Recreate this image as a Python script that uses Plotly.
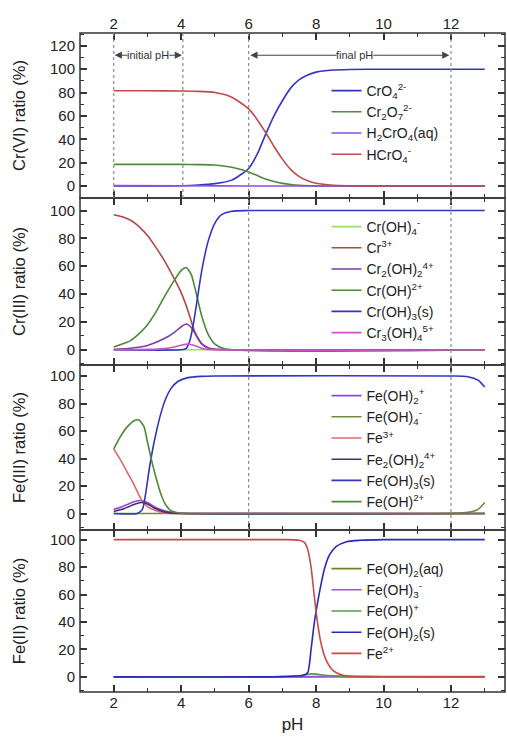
import plotly.graph_objects as go
from plotly.subplots import make_subplots

# ---------------- data ----------------
# Panel 1: Cr(VI)
pH_CrO4 = [2, 3, 4, 4.5, 5, 5.5, 6, 6.25, 6.5, 6.75, 7, 7.25, 7.5, 7.75, 8, 8.5, 9, 10, 11, 12, 13]
CrO4 = [0, 0, 0.2, 0.8, 2, 5, 15, 27, 44, 60, 73, 84, 91, 95, 97.5, 99.3, 99.8, 100, 100, 100, 100]
pH_HCrO4 = [2, 3, 4, 4.5, 5, 5.5, 6, 6.25, 6.5, 6.75, 7, 7.25, 7.5, 7.75, 8, 8.5, 9, 10, 13]
HCrO4 = [81.5, 81.5, 81.3, 81, 80, 76, 66, 57, 46, 34, 23, 14, 8, 4.5, 2.3, 0.6, 0.2, 0, 0]
pH_Cr2O7 = [2, 3, 4, 4.5, 5, 5.5, 6, 6.25, 6.5, 6.75, 7, 7.25, 7.5, 8, 8.5, 13]
Cr2O7 = [18.5, 18.5, 18.5, 18.3, 18, 16, 12, 9, 6, 3.8, 2.2, 1.2, 0.6, 0.1, 0, 0]
pH_H2CrO4 = [2, 4, 6, 13]
H2CrO4 = [0.3, 0.2, 0, 0]

# Panel 2: Cr(III)
pH_CrOH4 = [2, 13]
CrOH4 = [0, 0]
pH_Cr3 = [2, 2.25, 2.5, 2.75, 3, 3.25, 3.5, 3.75, 4, 4.2, 4.4, 4.6, 4.8, 5, 5.5, 13]
Cr3 = [97, 95.5, 93, 88.5, 82, 73.5, 64, 53, 41, 28, 13, 4.5, 1.2, 0.3, 0, 0]
pH_Cr2OH2 = [2, 2.5, 3, 3.5, 3.8, 4.0, 4.15, 4.3, 4.45, 4.6, 4.8, 5.0, 13]
Cr2OH2 = [0.2, 1, 3, 8, 12.5, 16.5, 18.5, 16, 10, 4.5, 1.3, 0.3, 0]
pH_CrOH = [2, 2.5, 2.75, 3, 3.25, 3.5, 3.8, 4.0, 4.15, 4.3, 4.45, 4.6, 4.8, 5.0, 5.3, 13]
CrOH = [2, 6.5, 11.5, 18, 27, 38, 50, 57, 59, 54, 40, 25, 11, 4, 0.5, 0]
pH_CrOH3s = [2, 4, 4.15, 4.25, 4.35, 4.45, 4.55, 4.65, 4.8, 5.0, 5.2, 5.5, 6, 13]
CrOH3s = [0, 0, 1, 6, 17, 32, 48, 62, 78, 91, 97, 99.5, 100, 100]
pH_Cr3OH4 = [2, 3, 3.5, 3.8, 4.0, 4.2, 4.4, 4.6, 4.8, 13]
Cr3OH4 = [0, 0.2, 0.8, 2, 3.2, 4, 3, 1, 0.2, 0]

# Panel 3: Fe(III)
pH_FeOH2p = [2, 2.3, 2.6, 2.8, 3.0, 3.2, 3.5, 3.8, 4.2, 13]
FeOH2p = [3, 5.5, 8.5, 9.5, 8, 5, 2, 0.6, 0.1, 0]
pH_FeOH4 = [2, 11.5, 12, 12.5, 12.8, 13]
FeOH4 = [0, 0, 0.1, 0.8, 3, 8]
pH_Fe3 = [2, 2.2, 2.4, 2.6, 2.8, 3.0, 3.2, 3.4, 3.6, 4.0, 13]
Fe3 = [47, 39, 30, 21, 11, 5, 2.5, 1, 0.3, 0, 0]
pH_Fe2OH2 = [2, 2.3, 2.6, 2.8, 3.0, 3.2, 3.5, 3.8, 13]
Fe2OH2 = [1.5, 3.5, 6.5, 8, 7, 4, 1.2, 0.2, 0]
pH_FeOH3s = [2, 2.7, 2.85, 2.95, 3.05, 3.15, 3.25, 3.4, 3.55, 3.7, 3.9, 4.2, 4.6, 5, 12, 12.5, 12.8, 13]
FeOH3s = [0, 0, 3, 15, 32, 46, 58, 73, 84, 91, 96, 98.8, 99.7, 100, 100, 99.5, 97, 92]
pH_FeOH2pp = [2, 2.2, 2.4, 2.6, 2.75, 2.9, 3.0, 3.1, 3.2, 3.3, 3.4, 3.55, 3.7, 3.9, 4.2, 13]
FeOH2pp = [47, 56, 63, 67.5, 68, 63, 52, 41, 31, 22, 14, 6, 2, 0.5, 0, 0]

# Panel 4: Fe(II)
pH_FeOH2aq = [2, 7.5, 8.0, 8.5, 9, 10, 13]
FeOH2aq = [0, 0, 0.3, 0.6, 0.5, 0.3, 0.3]
pH_FeOH3m = [2, 13]
FeOH3m = [0, 0]
pH_FeOHp = [2, 7, 7.6, 7.85, 8.1, 8.4, 8.8, 9.3, 13]
FeOHp = [0, 0.3, 1.2, 2.2, 1.8, 1, 0.4, 0.1, 0]
pH_FeOH2s = [2, 7, 7.6, 7.75, 7.85, 7.95, 8.05, 8.15, 8.25, 8.4, 8.6, 8.9, 9.3, 10, 13]
FeOH2s = [0, 0.2, 1, 3, 20, 40, 55, 68, 79, 89, 95, 98.5, 99.5, 100, 100]
pH_Fe2 = [2, 7, 7.5, 7.65, 7.75, 7.85, 7.95, 8.05, 8.15, 8.3, 8.45, 8.6, 8.8, 9.0, 9.5, 13]
Fe2 = [100, 100, 99.5, 98, 93, 80, 58, 38, 24, 12, 6, 3, 1.2, 0.5, 0.1, 0]

y_titles = ["Cr(VI) ratio (%)", "Cr(III) ratio (%)", "Fe(III) ratio (%)", "Fe(II) ratio (%)"]
y_ranges = [[-10.3, 131], [-11, 109], [-12, 108], [-11, 107]]
x_ticks = [2, 4, 6, 8, 10, 12]

BLUE = "#3434c4"
GREEN = "#4f8a3c"
VIOLET = "#8a4fe6"
RED = "#c04a4a"

series = [
    # panel, x, y, name, color
    (1, pH_CrO4, CrO4, "CrO<sub>4</sub><sup>2-</sup>", BLUE),
    (1, pH_Cr2O7, Cr2O7, "Cr<sub>2</sub>O<sub>7</sub><sup>2-</sup>", GREEN),
    (1, pH_H2CrO4, H2CrO4, "H<sub>2</sub>CrO<sub>4</sub>(aq)", VIOLET),
    (1, pH_HCrO4, HCrO4, "HCrO<sub>4</sub><sup>-</sup>", RED),
    (2, pH_CrOH4, CrOH4, "Cr(OH)<sub>4</sub><sup>-</sup>", "#9be060"),
    (2, pH_Cr3, Cr3, "Cr<sup>3+</sup>", "#b04848"),
    (2, pH_Cr2OH2, Cr2OH2, "Cr<sub>2</sub>(OH)<sub>2</sub><sup>4+</sup>", "#7a3ca8"),
    (2, pH_CrOH, CrOH, "Cr(OH)<sup>2+</sup>", "#4a8a34"),
    (2, pH_CrOH3s, CrOH3s, "Cr(OH)<sub>3</sub>(s)", BLUE),
    (2, pH_Cr3OH4, Cr3OH4, "Cr<sub>3</sub>(OH)<sub>4</sub><sup>5+</sup>", "#d04ed0"),
    (3, pH_FeOH2p, FeOH2p, "Fe(OH)<sub>2</sub><sup>+</sup>", "#8c4cd8"),
    (3, pH_FeOH4, FeOH4, "Fe(OH)<sub>4</sub><sup>-</sup>", "#6f8c3a"),
    (3, pH_Fe3, Fe3, "Fe<sup>3+</sup>", "#e06a6a"),
    (3, pH_Fe2OH2, Fe2OH2, "Fe<sub>2</sub>(OH)<sub>2</sub><sup>4+</sup>", "#4a2c70"),
    (3, pH_FeOH3s, FeOH3s, "Fe(OH)<sub>3</sub>(s)", BLUE),
    (3, pH_FeOH2pp, FeOH2pp, "Fe(OH)<sup>2+</sup>", "#4e8a3a"),
    (4, pH_FeOH2aq, FeOH2aq, "Fe(OH)<sub>2</sub>(aq)", "#6f7f2a"),
    (4, pH_FeOH3m, FeOH3m, "Fe(OH)<sub>3</sub><sup>-</sup>", "#9a54dc"),
    (4, pH_FeOHp, FeOHp, "Fe(OH)<sup>+</sup>", "#5c9a4c"),
    (4, pH_FeOH2s, FeOH2s, "Fe(OH)<sub>2</sub>(s)", "#2a2ab8"),
    (4, pH_Fe2, Fe2, "Fe<sup>2+</sup>", "#c84a4a"),
]

fig = make_subplots(rows=4, cols=1, shared_xaxes=True, vertical_spacing=0,
                    row_heights=[165, 167, 165, 162])

legend_keys = ["legend", "legend2", "legend3", "legend4"]
for panel, xs, ys, name, color in series:
    fig.add_trace(go.Scatter(x=xs, y=ys, mode="lines", name=name,
                             line=dict(color=color, width=1.6, shape="spline", smoothing=0.6),
                             legend=legend_keys[panel - 1], showlegend=True),
                  row=panel, col=1)

FONT = "Liberation Sans, Arial, sans-serif"
AX = "#333333"

for r in range(1, 5):
    xa = dict(range=[1.0, 13.6], tickmode="array", tickvals=x_ticks, ticks="inside",
              ticklen=7, tickwidth=1.5, tickcolor=AX, showline=False,
              mirror="allticks", showgrid=False, zeroline=False,
              minor=dict(dtick=1, tick0=1, ticks="inside", ticklen=4, tickwidth=1.2, tickcolor=AX),
              tickfont=dict(family=FONT, size=15, color="#222"))
    if r == 1:
        xa.update(side="top", showticklabels=True)
    elif r == 4:
        xa.update(showticklabels=True, title=dict(text="pH", font=dict(family=FONT, size=17, color="#222"), standoff=8))
    else:
        xa.update(showticklabels=False)
    fig.update_xaxes(row=r, col=1, **xa)
    fig.update_yaxes(row=r, col=1, range=y_ranges[r - 1], tickmode="array",
                     tickvals=[0, 20, 40, 60, 80, 100, 120] if r == 1 else [0, 20, 40, 60, 80, 100],
                     ticks="inside", ticklen=7, tickwidth=1.5, tickcolor=AX,
                     showline=False, mirror="allticks",
                     showgrid=False, zeroline=False, ticklabelstandoff=4,
                     minor=dict(dtick=10, tick0=0, ticks="inside", ticklen=4, tickwidth=1.2, tickcolor=AX),
                     tickfont=dict(family=FONT, size=15, color="#222"),
                     title=dict(text=y_titles[r - 1], font=dict(family=FONT, size=16.5, color="#222"), standoff=20))

shapes = []
# panel frames
for xk, yk in [("x", "y"), ("x2", "y2"), ("x3", "y3"), ("x4", "y4")]:
    shapes.append(dict(type="rect", xref=xk + " domain", yref=yk + " domain", x0=0, x1=1, y0=0, y1=1,
                       line=dict(color=AX, width=1.5), fillcolor="rgba(0,0,0,0)", layer="above"))
# dotted vertical lines
for xv in [2, 4.05]:
    shapes.append(dict(type="line", xref="x", yref="y domain", x0=xv, x1=xv, y0=0, y1=1,
                       line=dict(color="#8a8a8a", width=1.2, dash="dot")))
for yk in ["y", "y2", "y3"]:
    for xv in [6, 12]:
        shapes.append(dict(type="line", xref="x", yref=yk + " domain", x0=xv, x1=xv, y0=0, y1=1,
                           line=dict(color="#8a8a8a", width=1.2, dash="dot")))
fig.update_layout(shapes=shapes)

# pH range annotations in panel 1
ann_y = 112
arrow_col = "#444444"
anns = []
for head, tail in [(2.03, 2.45), (4.02, 3.6), (6.05, 8.65), (11.95, 9.65)]:
    anns.append(dict(x=head, y=ann_y, ax=tail, ay=ann_y, xref="x", yref="y", axref="x", ayref="y",
                     text="", showarrow=True, arrowhead=2, arrowsize=1.3, arrowwidth=1.1,
                     arrowcolor=arrow_col))
anns.append(dict(x=3.03, y=ann_y, xref="x", yref="y", text="initial pH", showarrow=False,
                 font=dict(family=FONT, size=11, color="#333")))
anns.append(dict(x=9.15, y=ann_y, xref="x", yref="y", text="final pH", showarrow=False,
                 font=dict(family=FONT, size=11, color="#333")))
fig.update_layout(annotations=anns)

H = 659.0
def py(pix):
    return (692 - pix) / H

leg_common = dict(bgcolor="rgba(0,0,0,0)", borderwidth=0, xanchor="left", yanchor="top",
                  font=dict(family=FONT, size=14, color="#222"), itemwidth=30, tracegroupgap=0)
fig.update_layout(
    legend=dict(x=0.58, y=py(75), **leg_common),
    legend2=dict(x=0.58, y=py(211), **leg_common),
    legend3=dict(x=0.58, y=py(380), **leg_common),
    legend4=dict(x=0.58, y=py(553), **leg_common),
)

fig.update_layout(width=507, height=740, margin=dict(l=80, r=2, t=33, b=48),
                  paper_bgcolor="white", plot_bgcolor="white",
                  font=dict(family=FONT, color="#222"))

fig.write_html("out.html")
